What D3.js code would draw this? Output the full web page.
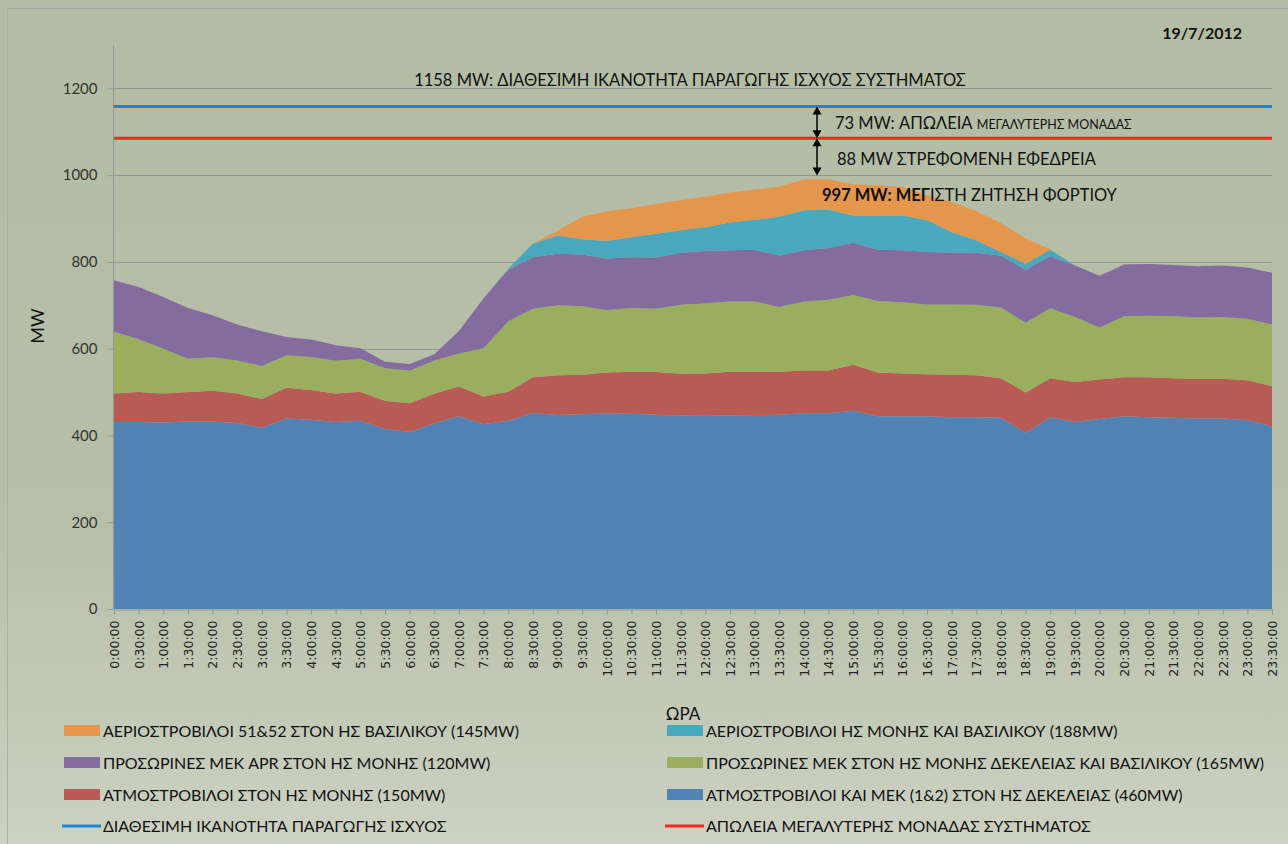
<!DOCTYPE html>
<html>
<head>
<meta charset="utf-8">
<script src="https://cdn.jsdelivr.net/npm/d3@7"></script>
<style>
  body { margin: 0; background: #c4cab8; }
  svg { display: block; }
</style>
</head>
<body>
<svg id="chart" width="1288" height="844"></svg>
<script>
'use strict';

// Time of day, one point per half hour
var times = d3.range(48).map(function(i) {
    return Math.floor(i / 2) + ':' + (i % 2 ? '30' : '00') + ':00';
});

// MW per unit group (stacked bottom to top)
var dekeleia = [431,431,430,432,432,429,418,439,436,431,434,415,408,428,444,426,434,
                452,447,449,451,450,448,446,447,446,447,448,451,451,457,444,
                444,444,442,442,441,406,442,431,438,444,442,441,439,439,435,421];
var moniSteam = [66,69,67,68,71,68,66,71,69,66,67,65,66,69,69,64,67,
                 82,92,91,94,97,98,96,96,101,100,99,99,99,106,101,
                 99,97,98,97,91,93,90,92,91,90,92,91,91,92,92,93];
var tempUnits = [142,122,103,77,77,76,76,75,76,75,76,75,76,76,76,111,162,
                 158,161,158,144,147,146,159,162,162,162,149,159,163,161,165,
                 164,161,162,162,163,161,161,150,120,141,142,143,142,142,142,142];
var aprUnits = [119,120,119,117,97,83,80,42,40,36,24,15,15,14,52,115,119,
                119,119,119,119,117,118,120,120,118,119,119,118,119,120,118,
                120,121,120,120,120,122,120,119,119,119,119,118,118,119,118,119];
var gasMoniVas = [0,0,0,0,0,0,0,0,0,0,0,0,0,0,0,0,2,
                  31,42,35,40,46,55,52,55,64,69,89,92,88,63,78,
                  80,73,47,29,8,14,15,0,0,0,0,0,0,0,0,0];
var gasVas5152 = [0,0,0,0,0,0,0,0,0,0,0,0,0,0,0,0,0,
                  0,10,52,69,67,69,69,70,69,70,69,71,70,72,70,
                  66,57,69,67,67,58,1,0,0,0,0,0,0,0,0,0];

var availableCapacity = 1158;
var largestUnitLoss = 73;
var yTicks = [0, 200, 400, 600, 800, 1000, 1200];

var seriesKeys = ['dekeleia', 'moniSteam', 'tempUnits', 'aprUnits', 'gasMoniVas', 'gasVas5152'];
var seriesColors = {
    dekeleia: '#5183b5', moniSteam: '#b95b55', tempUnits: '#9aaf5e',
    aprUnits: '#846c9e', gasMoniVas: '#48a8bd', gasVas5152: '#e4964d'
};
var seriesNames = {
    gasVas5152: 'ΑΕΡΙΟΣΤΡΟΒΙΛΟΙ 51&52 ΣΤΟΝ ΗΣ ΒΑΣΙΛΙΚΟΥ (145MW)',
    gasMoniVas: 'ΑΕΡΙΟΣΤΡΟΒΙΛΟΙ ΗΣ ΜΟΝΗΣ ΚΑΙ ΒΑΣΙΛΙΚΟΥ (188MW)',
    aprUnits: 'ΠΡΟΣΩΡΙΝΕΣ ΜΕΚ APR ΣΤΟΝ ΗΣ ΜΟΝΗΣ (120MW)',
    tempUnits: 'ΠΡΟΣΩΡΙΝΕΣ ΜΕΚ ΣΤΟΝ ΗΣ ΜΟΝΗΣ ΔΕΚΕΛΕΙΑΣ ΚΑΙ ΒΑΣΙΛΙΚΟΥ (165MW)',
    moniSteam: 'ΑΤΜΟΣΤΡΟΒΙΛΟΙ ΣΤΟΝ ΗΣ ΜΟΝΗΣ (150MW)',
    dekeleia: 'ΑΤΜΟΣΤΡΟΒΙΛΟΙ ΚΑΙ ΜΕΚ (1&2) ΣΤΟΝ ΗΣ ΔΕΚΕΛΕΙΑΣ (460MW)'
};

// Build table for d3.stack
var table = times.map(function(t, i) {
    return {
        time: t, dekeleia: dekeleia[i], moniSteam: moniSteam[i], tempUnits: tempUnits[i],
        aprUnits: aprUnits[i], gasMoniVas: gasMoniVas[i], gasVas5152: gasVas5152[i]
    };
});

var svg = d3.select('#chart');
var W = 1288, H = 844;
var margin = {left: 114, right: 16, top: 45, bottom: 235};

// background gradient
var defs = svg.append('defs');
var grad = defs.append('linearGradient').attr('id', 'bg')
    .attr('x1', 0).attr('y1', 0).attr('x2', 0).attr('y2', 1);
grad.append('stop').attr('offset', '0%').attr('stop-color', '#b3bca4');
grad.append('stop').attr('offset', '62%').attr('stop-color', '#b7bfa8');
grad.append('stop').attr('offset', '100%').attr('stop-color', '#ccd1c2');
svg.append('rect').attr('width', W).attr('height', H).attr('fill', 'url(#bg)');
svg.append('line').attr('x1', 7).attr('x2', W).attr('y1', 8.5).attr('y2', 8.5)
    .attr('stroke', '#9da4a2').attr('stroke-width', 1);
svg.append('line').attr('x1', 7.5).attr('x2', 7.5).attr('y1', 8).attr('y2', H)
    .attr('stroke', '#a9b0a6').attr('stroke-width', 1);

var x = d3.scalePoint().domain(times).range([margin.left, W - margin.right]);
var y = d3.scaleLinear().domain([0, 1300]).range([H - margin.bottom, margin.top]);

// gridlines
svg.append('g').selectAll('line').data(yTicks.slice(1)).join('line')
    .attr('x1', margin.left).attr('x2', W - margin.right)
    .attr('y1', function(d) { return Math.round(y(d)) + 0.5; })
    .attr('y2', function(d) { return Math.round(y(d)) + 0.5; })
    .attr('stroke', '#8f9794').attr('stroke-width', 1);

// stacked areas
var stack = d3.stack().keys(seriesKeys);
var layers = stack(table);
var area = d3.area()
    .x(function(d) { return x(d.data.time); })
    .y0(function(d) { return y(d[0]); })
    .y1(function(d) { return y(d[1]); });
svg.append('g').selectAll('path').data(layers).join('path')
    .attr('d', area)
    .attr('fill', function(d) { return seriesColors[d.key]; });

// capacity lines
svg.append('line').attr('x1', margin.left).attr('x2', W - margin.right)
    .attr('y1', y(availableCapacity)).attr('y2', y(availableCapacity))
    .attr('stroke', '#1f83d6').attr('stroke-width', 3);
svg.append('line').attr('x1', margin.left).attr('x2', W - margin.right)
    .attr('y1', y(availableCapacity - largestUnitLoss)).attr('y2', y(availableCapacity - largestUnitLoss))
    .attr('stroke', '#f2291f').attr('stroke-width', 3);

// axes
var yAxis = d3.axisLeft(y).tickValues(yTicks).tickFormat(d3.format('d')).tickSize(6).tickPadding(10);
var gy = svg.append('g').attr('transform', 'translate(' + (margin.left - 0.5) + ',0)').call(yAxis);
gy.select('.domain').attr('stroke', '#8f9794').attr('d', 'M0,' + y(1300) + 'V' + y(0));
gy.selectAll('.tick line').attr('stroke', '#8f9794');
gy.selectAll('text').attr('font-family', 'Lato').attr('font-size', 15).attr('fill', '#333');

var xAxis = d3.axisBottom(x).tickSize(5).tickPadding(6);
var gx = svg.append('g').attr('transform', 'translate(0,' + (y(0) + 0.5) + ')').call(xAxis);
gx.select('.domain').attr('stroke', '#8f9794');
gx.selectAll('.tick line').attr('stroke', '#8f9794');
gx.selectAll('text')
    .attr('font-family', 'DejaVu Sans').attr('font-size', 12.5).attr('fill', '#222')
    .attr('transform', 'rotate(-90)')
    .attr('text-anchor', 'end').attr('dy', '0.35em').attr('x', -11).attr('y', 0);

// axis titles
svg.append('text').attr('transform', 'translate(44,326) rotate(-90)')
    .attr('text-anchor', 'middle').attr('font-family', 'Lato').attr('font-size', 18)
    .attr('fill', '#111').text('MW');
svg.append('text').attr('x', 683).attr('y', 720).attr('text-anchor', 'middle')
    .attr('font-family', 'Lato').attr('font-size', 17).attr('fill', '#111').text('ΩΡΑ');

// date
svg.append('text').attr('x', 1242).attr('y', 39).attr('text-anchor', 'end')
    .attr('font-family', 'Lato').attr('font-weight', 'bold').attr('font-size', 16)
    .attr('fill', '#111').text('19/7/2012');

// annotations
var note = svg.append('g').attr('font-family', 'Lato').attr('fill', '#111');
note.append('text').attr('x', 690).attr('y', 86).attr('text-anchor', 'middle')
    .attr('font-size', 16.5).text(availableCapacity + ' MW: ΔΙΑΘΕΣΙΜΗ ΙΚΑΝΟΤΗΤΑ ΠΑΡΑΓΩΓΗΣ ΙΣΧΥΟΣ ΣΥΣΤΗΜΑΤΟΣ');
var t73 = note.append('text').attr('x', 835).attr('y', 129).attr('font-size', 16.5);
t73.append('tspan').text(largestUnitLoss + ' MW: ΑΠΩΛΕΙΑ ');
t73.append('tspan').attr('font-size', 12.5).text('ΜΕΓΑΛΥΤΕΡΗΣ ΜΟΝΑΔΑΣ');
note.append('text').attr('x', 837).attr('y', 165).attr('font-size', 16.5)
    .text('88 MW ΣΤΡΕΦΟΜΕΝΗ ΕΦΕΔΡΕΙΑ');
var t997 = note.append('text').attr('x', 822).attr('y', 201).attr('font-size', 16.5);
t997.append('tspan').attr('font-weight', 'bold').text('997 MW: ΜΕΓ');
t997.append('tspan').text('ΙΣΤΗ ΖΗΤΗΣΗ ΦΟΡΤΙΟΥ');

// double arrows
function arrowHead(px, py, dir) {
    svg.append('path')
        .attr('d', 'M' + (px - 4.5) + ',' + (py - dir * 8) + 'L' + (px + 4.5) + ',' + (py - dir * 8) + 'L' + px + ',' + py + 'Z')
        .attr('fill', '#000');
}
var ax = 817;
var spans = [[y(availableCapacity), y(availableCapacity - largestUnitLoss)],
             [y(availableCapacity - largestUnitLoss), y(997) - 1]];
spans.forEach(function(s) {
    svg.append('line').attr('x1', ax).attr('x2', ax).attr('y1', s[0] + 4).attr('y2', s[1] - 4)
        .attr('stroke', '#000').attr('stroke-width', 1.5);
    arrowHead(ax, s[0], -1);
    arrowHead(ax, s[1], 1);
});

// legend
var legendRows = [
    ['gasVas5152', 'gasMoniVas'],
    ['aprUnits', 'tempUnits'],
    ['moniSteam', 'dekeleia']
];
var colX = [64, 667];
var rowY = [731, 763, 795, 826];
var legend = svg.append('g').attr('font-family', 'Lato').attr('font-size', 16).attr('fill', '#111');
legendRows.forEach(function(row, r) {
    row.forEach(function(key, c) {
        legend.append('rect').attr('x', colX[c]).attr('y', rowY[r] - 6)
            .attr('width', 36).attr('height', 11).attr('fill', seriesColors[key]);
        legend.append('text').attr('x', colX[c] + 39).attr('y', rowY[r] + 6).text(seriesNames[key]);
    });
});
var lineItems = [['ΔΙΑΘΕΣΙΜΗ ΙΚΑΝΟΤΗΤΑ ΠΑΡΑΓΩΓΗΣ ΙΣΧΥΟΣ', '#1f83d6'],
                 ['ΑΠΩΛΕΙΑ ΜΕΓΑΛΥΤΕΡΗΣ ΜΟΝΑΔΑΣ ΣΥΣΤΗΜΑΤΟΣ', '#f2291f']];
lineItems.forEach(function(it, c) {
    legend.append('line').attr('x1', colX[c] - 2).attr('x2', colX[c] + 37)
        .attr('y1', rowY[3]).attr('y2', rowY[3]).attr('stroke', it[1]).attr('stroke-width', 3);
    legend.append('text').attr('x', colX[c] + 39).attr('y', rowY[3] + 6).text(it[0]);
});
</script>
</body>
</html>
